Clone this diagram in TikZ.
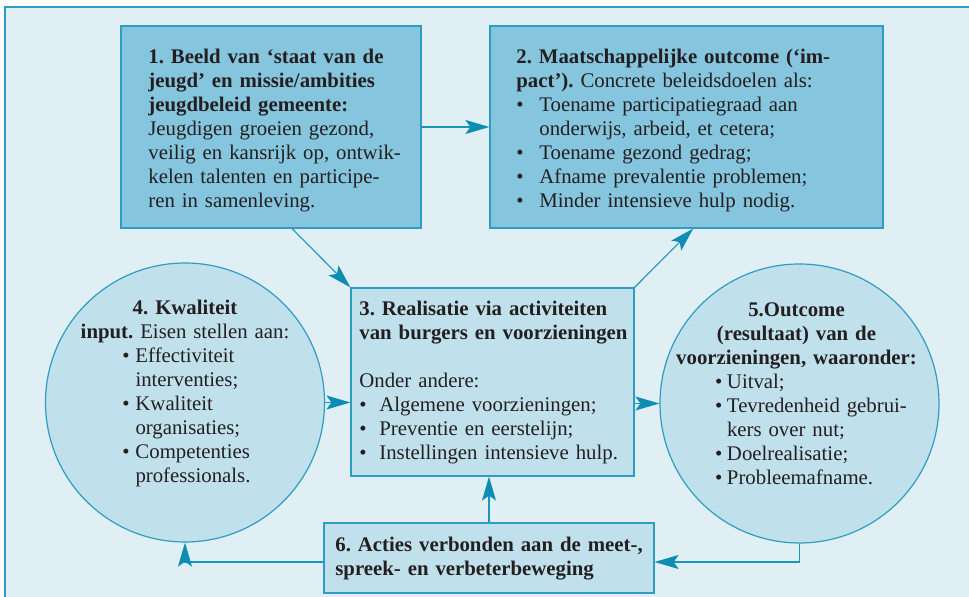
\documentclass[tikz,border=0pt]{standalone}
\usepackage{fontspec}
\setmainfont{Liberation Serif}
\usepackage{xcolor}
\usetikzlibrary{arrows.meta,positioning,calc}

\definecolor{rand}{HTML}{2E9CC3}
\definecolor{lijnblauw}{HTML}{1A95BA}
\definecolor{pijlblauw}{HTML}{0E8DB4}
\definecolor{donkervlak}{HTML}{86C5DE}
\definecolor{lichtvlak}{HTML}{C0E1EC}
\definecolor{achtergrond}{HTML}{E0EFF4}
\definecolor{tekst}{HTML}{231F20}

\frenchspacing
\newcommand{\bol}[1]{\makebox[#1][l]{\textbullet}}

\tikzset{
  blok/.style={rectangle, draw=rand, line width=0.6pt, inner sep=0pt},
  donker/.style={blok, fill=donkervlak},
  licht/.style={blok, fill=lichtvlak},
  rondje/.style={circle, draw=rand, line width=0.6pt, fill=lichtvlak, minimum size=139.5pt, inner sep=0pt},
  inhoud/.style={text=tekst, align=left, inner sep=0pt, anchor=base west},
  pijl/.style={draw=lijnblauw, line width=0.55pt, -{Stealth[length=12pt,width=7pt,inset=2.5pt,color=pijlblauw,fill=pijlblauw]}}
}

\begin{document}
\begin{tikzpicture}[x=0.5pt,y=-0.5pt,font=\fontsize{10.4}{12}\selectfont]
		\useasboundingbox (0,0) rectangle (969,597);
		\draw[rand,fill=achtergrond,line width=0.6pt] (5,7) rectangle (1000,620);
		% boxes
		\node[donker,minimum width=150pt,minimum height=101pt] (b1) at (271,127) {};
		\node[inhoud,text width=136pt] (b1tekst) at (148,64)
		{\textbf{1. Beeld van `staat van de}\\
		 \textbf{jeugd' en missie/ambities}\\
		 \textbf{jeugdbeleid gemeente:}\\
		 Jeugdigen groeien gezond,\\
		 veilig en kansrijk op, ontwik-\\
		 kelen talenten en participe-\\
		 ren in samenleving.};
		\node[donker,minimum width=196.5pt,minimum height=101pt] (b2) at (686.5,127) {};
		\node[inhoud,text width=180pt] (b2tekst) at (516,64)
		{\textbf{2. Maatschappelijke outcome (`im-}\\
		 \textbf{pact').} Concrete beleidsdoelen als:\\
		 \bol{11.5pt}Toename participatiegraad aan\\
		 \hspace*{11.5pt}onderwijs, arbeid, et cetera;\\
		 \bol{11.5pt}Toename gezond gedrag;\\
		 \bol{11.5pt}Afname prevalentie problemen;\\
		 \bol{11.5pt}Minder intensieve hulp nodig.};
		\node[licht,minimum width=141.5pt,minimum height=94pt] (b3) at (492.5,382) {};
		\node[inhoud,text width=133.5pt] (b3tekst) at (359,316)
		{\makebox[133.5pt][s]{\textbf{3. Realisatie via activiteiten}}\\
		 \makebox[133.5pt][s]{\textbf{van burgers en voorzieningen}}\\[12pt]
		 Onder andere:\\
		 \bol{10pt}Algemene voorzieningen;\\
		 \bol{10pt}Preventie en eerstelijn;\\
		 \bol{10pt}Instellingen intensieve hulp.};
		\node[licht,minimum width=165pt,minimum height=35pt] (b6) at (489,558) {};
		\node[inhoud,text width=162pt] (b6tekst) at (335,552)
		{\textbf{6. Acties verbonden aan de meet-,}\\
		 \textbf{spreek- en verbeterbeweging}};
		% circles
		\node[rondje] (c4) at (185,402.5) {};
		\node[inhoud,anchor=base,text width=102.5pt] (c4tekst) at (185,315)
		{\makebox[102.5pt]{\textbf{4. Kwaliteit}}\\
		 \makebox[102.5pt]{\textbf{input.} Eisen stellen aan:}\\
		 \hspace*{20pt}\bol{6.5pt}Effectiviteit\\
		 \hspace*{26.5pt}interventies;\\
		 \hspace*{20pt}\bol{6.5pt}Kwaliteit\\
		 \hspace*{26.5pt}organisaties;\\
		 \hspace*{20pt}\bol{6.5pt}Competenties\\
		 \hspace*{26.5pt}professionals.};
		\node[rondje] (c5) at (799.5,403.5) {};
		\node[inhoud,anchor=base,text width=123.5pt] (c5tekst) at (796.5,317)
		{\makebox[123.5pt]{\textbf{5.Outcome}}\\
		 \makebox[123.5pt]{\textbf{(resultaat) van de}}\\
		 \makebox[123.5pt]{\textbf{voorzieningen, waaronder:}}\\
		 \hspace*{21pt}\bol{6pt}Uitval;\\
		 \hspace*{21pt}\bol{6pt}Tevredenheid gebrui-\\
		 \hspace*{27pt}kers over nut;\\
		 \hspace*{21pt}\bol{6pt}Doelrealisatie;\\
		 \hspace*{21pt}\bol{6pt}Probleemafname.};
		% arrows
		\draw[pijl] (b1.east) -- (b2.west);
		\draw[pijl] ($(b1.south west)!0.57!(b1.south east)$) -- (b3.north west);
		\draw[pijl] (b3.north east) -- ($(b2.south west)!0.517!(b2.south east)$);
		\draw[pijl] (c4.east) -- (c4.east -| b3.west);
		\draw[pijl] (c5.west -| b3.east) -- (c5.west);
		\draw[pijl] (b6.north) -- (b6.north |- b3.south);
		\draw[pijl] (c5.south) |- ([yshift=-2pt]b6.east);
		\draw[pijl] ([yshift=-2pt]b6.west) -| (c4.south);
	\end{tikzpicture}
\end{document}
